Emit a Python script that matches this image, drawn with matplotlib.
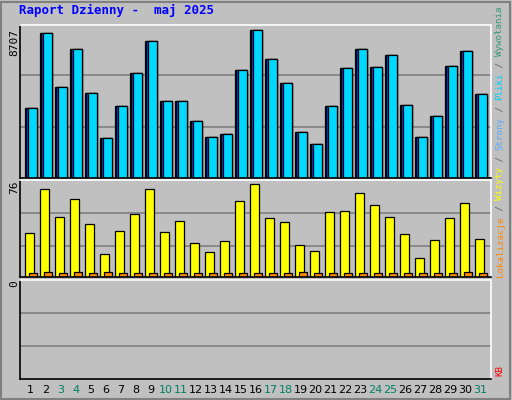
import matplotlib
matplotlib.use("Agg")
import matplotlib.pyplot as plt
import numpy as np
from matplotlib.patches import Rectangle

days = list(range(1, 32))
weekend = {3, 4, 10, 11, 17, 18, 24, 25, 31}
hits = [4097, 8530, 5338, 7584, 4984, 2324, 4216, 6185, 8057, 4531, 4531, 3329, 2384, 2561,
        6343, 8707, 6993, 5575, 2679, 1970, 4216, 6461, 7584, 6520, 7229, 4275, 2384, 3625,
        6580, 7466, 4925]
files = hits
pages = hits
visits = [36.5, 72.7, 49.7, 63.7, 43.9, 19.2, 38.1, 52.1, 72.7, 37.3, 46.4, 28.3, 20.9, 29.9,
          62.8, 76, 48.8, 45.5, 26.6, 21.7, 53.8, 54.6, 69.4, 59.5, 49.7, 35.7, 15.9, 30.7,
          48.8, 60.4, 31.6]
locations = [3, 4, 3, 4, 3, 4, 3, 3, 3, 3, 3, 3, 3, 3, 3, 3, 3, 3, 4, 3, 3, 3, 3, 3, 3, 3, 3,
             3, 3, 4, 3]
kb = [0] * 31

W, H = 512, 400
GREY = "#c0c0c0"
FONT = "DejaVu Sans Mono"

fig = plt.figure(figsize=(W / 100, H / 100), dpi=100)
fig.patch.set_facecolor(GREY)
fig.add_artist(Rectangle((0.002, 0.002), 0.994, 0.994, transform=fig.transFigure,
                         fill=False, edgecolor="#808080", linewidth=1.5))


def ax_at(x0, y0, x1, y1):
    ax = fig.add_axes([x0 / W, 1 - y1 / H, (x1 - x0) / W, (y1 - y0) / H])
    ax.set_facecolor(GREY)
    ax.set_xlim(-0.333, 31.07)
    ax.set_xticks([])
    ax.set_yticks([])
    for s in ax.spines.values():
        s.set_color("black")
        s.set_linewidth(1.2)
    ax.spines["right"].set_color("white")
    ax.spines["top"].set_color("white")
    return ax


x = np.arange(31)
ec = dict(edgecolor="black", linewidth=0.9)

# top: hits / pages / files
ax1 = ax_at(20, 25, 491, 178)
ax1.set_ylim(0, 8707 * 152 / 147.5)
for yy in (8707 * 51 / 147.5, 8707 * 102 / 147.5):
    ax1.axhline(yy, color="#808080", linewidth=1.2, zorder=0)
ax1.bar(x, hits, width=0.77, align="edge", color="#006633", **ec)
ax1.bar(x + 0.08, pages, width=0.69, align="edge", color="#0044ff", **ec)
ax1.bar(x + 0.2, files, width=0.57, align="edge", color="#00d8ff", **ec)

# middle: visits / locations
ax2 = ax_at(20, 180, 491, 277)
ax2.set_ylim(0, 76 * 97 / 92.5)
for yy in (76 * 64 / 92.5, 76 * 31 / 92.5):
    ax2.axhline(yy, color="#808080", linewidth=1.2, zorder=0)
ax2.bar(x, visits, width=0.58, align="edge", color="#ffff00", **ec)
ax2.bar(x + 0.29, locations, width=0.49, align="edge", color="#ff8800", **ec)

# bottom: KB
ax3 = ax_at(20, 280, 491, 379)
ax3.set_ylim(0, 3)
for yy in (1, 2):
    ax3.axhline(yy, color="#808080", linewidth=1.2, zorder=0)
ax3.bar(x, kb, width=0.58, align="edge", color="#ff0000")
ax3.set_xticks(x + 0.38)
ax3.set_xticklabels([str(d) for d in days], fontsize=8, family="DejaVu Sans")
for lab, d in zip(ax3.get_xticklabels(), days):
    lab.set_color("#008060" if d in weekend else "black")
ax3.tick_params(axis="x", length=0, pad=4)

fig.text(19 / W, 1 - 10 / H, "Raport Dzienny -  maj 2025", family=FONT, weight="bold",
         fontsize=9, color="#0000ff", va="center")
fig.text(14 / W, 1 - 42 / H, "8707", rotation=90, family=FONT, fontsize=8, ha="center", va="center")
fig.text(14 / W, 1 - 187 / H, "76", rotation=90, family=FONT, fontsize=8, ha="center", va="center")
fig.text(14 / W, 1 - 284 / H, "0", rotation=90, family=FONT, fontsize=8, ha="center", va="center")

# right-side rotated legend
FS = 6.6
step = FS * 100 / 72 * 0.602
parts = [("Lokalizacje", "#ff8800"), (" / ", "#606060"), ("Wizyty", "#ffff00"),
         (" / ", "#606060"), ("Strony", "#55aaff"), (" / ", "#606060"),
         ("Pliki", "#00ccff"), (" / ", "#606060"), ("Wywołania", "#339977")]
y = 277
for txt, col in parts:
    fig.text(500 / W, 1 - y / H, txt, rotation=90, family=FONT, fontsize=FS, color=col,
             ha="center", va="bottom")
    y -= len(txt) * step
fig.text(500 / W, 1 - 376 / H, "KB", rotation=90, family=FONT, fontsize=FS, color="#ff0000",
         ha="center", va="bottom")

fig.savefig("out.png", dpi=100, facecolor=GREY)
